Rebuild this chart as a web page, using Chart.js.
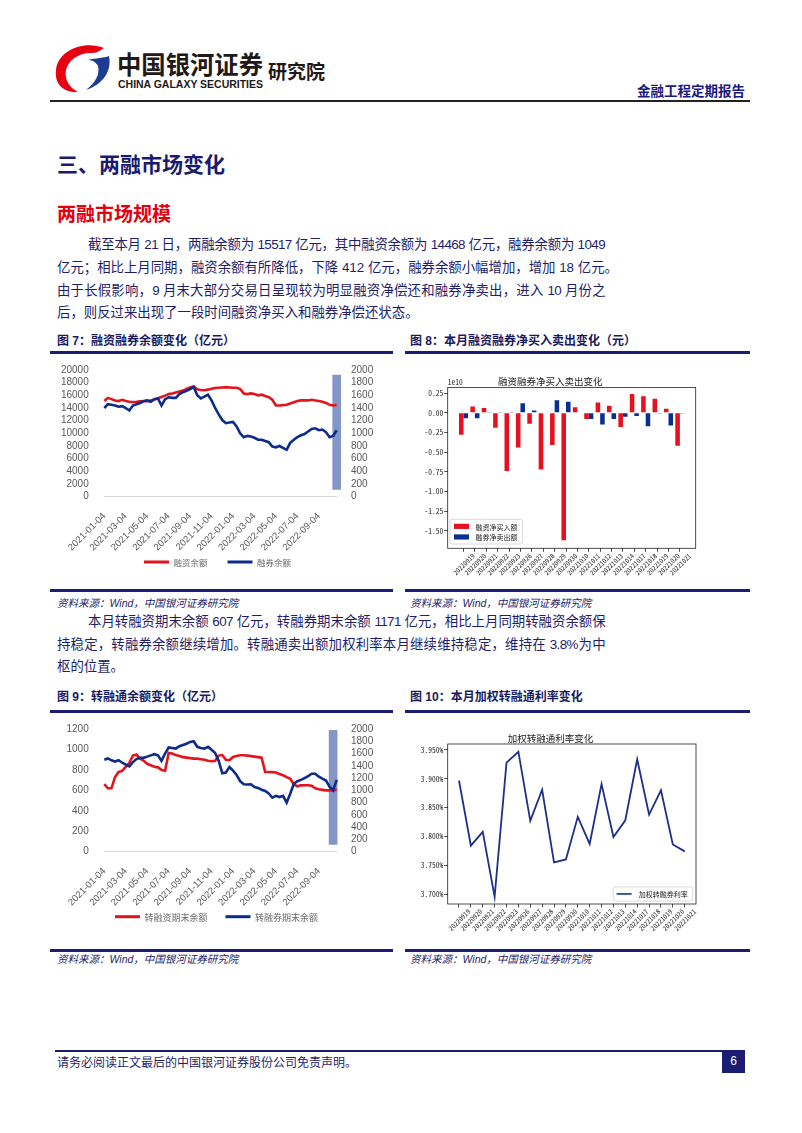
<!DOCTYPE html>
<html>
<head>
<meta charset="utf-8">
<script src="https://cdn.jsdelivr.net/npm/chart.js@4.4.1/dist/chart.umd.min.js"></script>
<style>
  body { margin: 0; background: #fff; }
  #page { position: relative; width: 802px; height: 1133px; overflow: hidden;
          font-family: "Liberation Sans", "Noto Sans CJK SC", sans-serif; color: #1e1e6a; }
  .row { position: absolute; left: 57px; width: 548px; height: 20px; font-size: 13.4px; line-height: 20px; white-space: nowrap; }
  .just { text-align: justify; text-align-last: justify; white-space: normal; letter-spacing: -0.6px; }
  .cap { position: absolute; font-size: 12px; font-weight: bold; line-height: 14px; white-space: nowrap; color: #1a1a5e; }
  .rule { position: absolute; height: 2.5px; background: #1c1c72; }
  .src { position: absolute; font-size: 10.5px; font-style: italic; line-height: 12px; white-space: nowrap; }
  canvas { position: absolute; }
</style>
</head>
<body>
<div id="page">
  <svg width="802" height="110" style="position:absolute;left:0;top:0">
    <path d="M104 48 C84 40 58 50 56 70 C54 86 66 93 78 92 C70 88 64 80 66 70 C68 60 80 52 92 53 C96 53 100 51 104 48 Z" fill="#e60012"/>
    <path d="M109 56 C112 70 104 84 86 90 C96 82 100 74 98 66 C96 62 92 60 88 60 C96 58 104 58 109 56 Z" fill="#1d3d92"/>
    <text x="117" y="74" font-family="Noto Sans CJK SC" font-size="25" font-weight="bold" fill="#231815" textLength="146" lengthAdjust="spacingAndGlyphs">中国银河证券</text>
    <text x="118" y="88" font-family="Liberation Sans" font-size="11" font-weight="bold" fill="#231815" textLength="145" lengthAdjust="spacingAndGlyphs">CHINA GALAXY SECURITIES</text>
    <text x="268" y="79" font-family="Noto Sans CJK SC" font-size="19" font-weight="bold" fill="#231815">研究院</text>
    <text x="745" y="96" text-anchor="end" font-family="Noto Sans CJK SC" font-size="13.5" font-weight="bold" fill="#1a1a80">金融工程定期报告</text>
    <line x1="50" y1="101" x2="750" y2="101" stroke="#222" stroke-width="2"/>
  </svg>

  <div class="row" style="top:152px;width:300px;font-size:21px;line-height:26px;height:26px;font-weight:bold;color:#1a1a6e">三、两融市场变化</div>
  <div class="row" style="top:203px;width:300px;font-size:19px;line-height:24px;height:24px;font-weight:bold;color:#e3000f">两融市场规模</div>

  <div class="row just" style="top:235px;padding-left:31px;width:517px">截至本月 21 日，两融余额为 15517 亿元，其中融资余额为 14468 亿元，融券余额为 1049</div>
  <div class="row" style="top:258px">亿元；相比上月同期，融资余额有所降低，下降 412 亿元，融券余额小幅增加，增加 18 亿元。</div>
  <div class="row just" style="top:281px">由于长假影响，9 月末大部分交易日呈现较为明显融资净偿还和融券净卖出，进入 10 月份之</div>
  <div class="row" style="top:303px">后，则反过来出现了一段时间融资净买入和融券净偿还状态。</div>

  <div class="cap" style="left:57px;top:334px">图 7：融资融券余额变化（亿元）</div>
  <div class="cap" style="left:410px;top:334px">图 8：本月融资融券净买入卖出变化（元）</div>
  <div class="rule" style="left:50px;top:351px;width:343px"></div>
  <div class="rule" style="left:405px;top:351px;width:345px"></div>

  <canvas id="c7" width="343" height="233" style="left:50px;top:355px"></canvas>
  <canvas id="c8" width="345" height="233" style="left:405px;top:355px"></canvas>

  <div class="rule" style="left:50px;top:589px;width:343px"></div>
  <div class="rule" style="left:405px;top:589px;width:345px"></div>
  <div class="src" style="left:57px;top:597px">资料来源：Wind，中国银河证券研究院</div>
  <div class="src" style="left:410px;top:597px">资料来源：Wind，中国银河证券研究院</div>

  <div class="row just" style="top:612px;padding-left:31px;width:517px">本月转融资期末余额 607 亿元，转融券期末余额 1171 亿元，相比上月同期转融资余额保</div>
  <div class="row just" style="top:635px">持稳定，转融券余额继续增加。转融通卖出额加权利率本月继续维持稳定，维持在 3.8%为中</div>
  <div class="row" style="top:657px">枢的位置。</div>

  <div class="cap" style="left:57px;top:690px">图 9：转融通余额变化（亿元）</div>
  <div class="cap" style="left:410px;top:690px">图 10：本月加权转融通利率变化</div>
  <div class="rule" style="left:50px;top:710px;width:343px"></div>
  <div class="rule" style="left:405px;top:710px;width:345px"></div>

  <canvas id="c9" width="343" height="234" style="left:50px;top:714px"></canvas>
  <canvas id="c10" width="345" height="234" style="left:405px;top:714px"></canvas>

  <div class="rule" style="left:50px;top:949px;width:343px"></div>
  <div class="rule" style="left:405px;top:949px;width:345px"></div>
  <div class="src" style="left:57px;top:953px">资料来源：Wind，中国银河证券研究院</div>
  <div class="src" style="left:410px;top:953px">资料来源：Wind，中国银河证券研究院</div>

  <div style="position:absolute;left:55px;top:1050px;width:690px;height:1.5px;background:#1c1c72"></div>
  <div class="row" style="top:1053px;font-size:12px;">请务必阅读正文最后的中国银河证券股份公司免责声明。</div>
  <div style="position:absolute;left:722px;top:1050px;width:23px;height:23px;background:#1c1c72;color:#fff;font-size:12px;line-height:23px;text-align:center">6</div>
</div>

<script>
// ---- data ----
const dates = [
  '2021-01-04','2021-01-14','2021-01-24','2021-02-04','2021-02-14','2021-02-24',
  '2021-03-04','2021-03-14','2021-03-24','2021-04-04','2021-04-14','2021-04-24',
  '2021-05-04','2021-05-14','2021-05-24','2021-06-04','2021-06-14','2021-06-24',
  '2021-07-04','2021-07-14','2021-07-24','2021-08-04','2021-08-14','2021-08-24',
  '2021-09-04','2021-09-14','2021-09-24','2021-10-04','2021-10-14','2021-10-24',
  '2021-11-04','2021-11-14','2021-11-24','2021-12-04','2021-12-14','2021-12-24',
  '2022-01-04','2022-01-14','2022-01-24','2022-02-04','2022-02-14','2022-02-24',
  '2022-03-04','2022-03-14','2022-03-24','2022-04-04','2022-04-14','2022-04-24',
  '2022-05-04','2022-05-14','2022-05-24','2022-06-04','2022-06-14','2022-06-24',
  '2022-07-04','2022-07-14','2022-07-24','2022-08-04','2022-08-14','2022-08-24',
  '2022-09-04','2022-09-14','2022-09-24','2022-10-04','2022-10-14','2022-10-21'
]
const dateTicks = ['2021-01-04','2021-03-04','2021-05-04','2021-07-04','2021-09-04','2021-11-04',
  '2022-01-04','2022-03-04','2022-05-04','2022-07-04','2022-09-04']

// fig 7 (亿元)
const finBal = [15100,15600,15400, 15200,15100,15300, 15100,15000,14950, 14980,15050,15070,
  15070,15200,15340, 15550,15750,15950, 16200,16300,16450, 16600,16750,17000,
  17250,17400,16950, 16850,16800,16900, 17050,17150,17200, 17250,17300,17250,
  17200,17200,17000, 16300,16200,16300, 16200,16000,16100, 15900,15700,15300,
  14400,14400,14450, 14500,14700,14900, 15100,15200,15200, 15200,15300,15200,
  15100,15000,14800, 14500,14400,14468]
const secBal = [1400,1460,1450, 1440,1420,1430, 1400,1360,1440, 1460,1480,1510,
  1520,1500,1540, 1550,1440,1540, 1570,1560,1560, 1620,1650,1670,
  1700,1730,1600, 1550,1580,1610, 1520,1400,1300, 1210,1160,1170,
  1180,1110,1000, 940,960,950, 930,900,900, 880,860,790,
  780,800,770, 740,850,900, 940,970,990, 1030,1070,1080,
  1050,1060,1020, 940,960,1049]
const band7 = [115, 1920]

// fig 9 (亿元)
const refiBal = [660,620,620, 730,780,790, 830,870,940, 950,910,890,
  860,845,830, 825,800,790, 965,960,945, 935,925,920,
  915,910,910, 905,900,890, 885,890,940, 945,900,895,
  926,935,943, 943,940,935, 930,925,920, 780,780,778,
  775,760,747, 730,714,660, 640,649,650, 650,645,620,
  610,605,600, 600,600,607]
const lendBal = [1500,1520,1490, 1470,1490,1450, 1420,1390,1460, 1510,1530,1530,
  1550,1570,1590, 1570,1480,1600, 1700,1690,1680, 1720,1740,1760,
  1790,1800,1710, 1690,1680,1710, 1660,1610,1480, 1280,1290,1380,
  1320,1250,1150, 1100,1095,1100, 1055,1040,1010, 990,950,880,
  910,890,910, 800,945,1108, 1150,1170,1200, 1230,1270,1270,
  1223,1190,1160, 1060,1000,1171]
const band9 = [120, 1980]

// fig 8 / fig 10
const tradeDays = ['20220919','20220920','20220921','20220922','20220923','20220926','20220927',
  '20220928','20220929','20220930','20221010','20221011','20221012','20221013','20221014',
  '20221017','20221018','20221019','20221020','20221021']
const netBuy = [-0.28,0.08,0.06,-0.19,-0.74,-0.44,-0.14,-0.72,-0.41,-1.62,
  0.07,-0.08,0.13,0.09,-0.18,0.24,0.21,0.18,0.05,-0.42]   // 1e10 元
const netSell = [-0.07,-0.07,0.01,0.005,0.005,0.12,0.03,-0.005,0.16,0.14,
  -0.005,-0.08,-0.15,-0.08,-0.05,-0.04,-0.17,-0.01,-0.16,-0.01]
const yTicks8 = [-1.5,-1.25,-1,-0.75,-0.5,-0.25,0,0.25]
const lendRate = [3.897,3.784,3.808,3.695,3.928,3.947,3.827,3.881,3.755,3.760,
  3.834,3.787,3.891,3.799,3.828,3.934,3.838,3.880,3.786,3.774]
const yTicks10 = [3.70,3.75,3.80,3.85,3.90,3.95]

const RED = '#e3141c'
const BLUE = '#0c2b8c'
const BAND = '#8496c8'
const GREY = '#595959'
const MONO = '"Noto Sans Mono CJK SC", "DejaVu Sans Mono", monospace'
Chart.defaults.font.family = '"Liberation Sans", "Noto Sans CJK SC", sans-serif'
Chart.defaults.animation = false

// legend under the excel-like charts, centred on a given point
const excelLegend = {
  id: 'excelLegend',
  afterDraw(chart, args, opts) {
    if (!opts.cy) return
    const { ctx } = chart
    const items = chart.data.datasets.filter(d => d.label)
    ctx.save()
    ctx.font = opts.size + 'px "Noto Sans CJK SC"'
    const widths = items.map(d => 25 + 4.5 + ctx.measureText(d.label).width)
    const total = widths.reduce((a, b) => a + b, 0) + opts.gap * (items.length - 1)
    let x = opts.cx - total / 2
    items.forEach((d, i) => {
      ctx.fillStyle = d.borderColor
      ctx.fillRect(x, opts.cy - 1.5, 25, 3)
      ctx.fillStyle = '#6b6b6b'
      ctx.textBaseline = 'middle'
      ctx.fillText(d.label, x + 29.5, opts.cy + 0.5)
      x += widths[i] + opts.gap
    })
    ctx.restore()
  }
}

// ---- excel style dual axis charts ----
function excelChart(id, names, s1, s2, band, bandIdx, o) {
  const bandData = dates.map((d, i) => i === bandIdx ? band : null)
  return new Chart(document.getElementById(id), {
    type: 'line',
    data: {
      labels: dates,
      datasets: [
        { label: names[0], data: s1, borderColor: RED, borderWidth: 2.6, pointRadius: 0, yAxisID: 'y', order: 2 },
        { label: names[1], data: s2, borderColor: BLUE, borderWidth: 2.6, pointRadius: 0, yAxisID: 'y2', order: 1 },
        { type: 'bar', label: '', data: bandData, backgroundColor: BAND, yAxisID: 'y2', barThickness: 8, clip: false, order: 3 }
      ]
    },
    plugins: [excelLegend],
    options: {
      responsive: false,
      layout: { padding: { left: 0, right: 0, top: 15, bottom: 0 } },
      plugins: {
        tooltip: { enabled: false },
        legend: { display: false },
        excelLegend: { cx: o.legendX, cy: o.legendY, gap: o.legendGap, size: o.legendFont }
      },
      scales: {
        x: {
          offset: false,
          grid: { display: false, offset: false },
          border: { display: true, color: '#d9d9d9', width: 1 },
          afterFit: s => { s.height = o.xHeight },
          ticks: {
            autoSkip: false, minRotation: 45, maxRotation: 45, padding: 6, color: GREY,
            font: { size: 9.5 },
            callback: function (v) { const l = this.getLabelForValue(v); return dateTicks.includes(l) ? l : '' }
          }
        },
        y: {
          position: 'left', min: 0, max: o.leftMax,
          grid: { display: false }, border: { display: false },
          afterFit: s => { s.width = 54.3 },
          ticks: { stepSize: o.leftStep, autoSkip: false, padding: 7.6, color: GREY, font: { size: 10 }, callback: v => String(v) }
        },
        y2: {
          position: 'right', min: 0, max: 2000,
          grid: { display: false }, border: { display: false },
          afterFit: s => { s.width = 56.3 },
          ticks: { stepSize: 200, autoSkip: false, padding: 6.3, color: GREY, font: { size: 10 }, callback: v => String(v) }
        }
      }
    }
  })
}

excelChart('c7', ['融资余额', '融券余额'], finBal, secBal, band7, dates.length - 1,
  { leftMax: 20000, leftStep: 2000, xHeight: 91.3, legendX: 167.5, legendY: 207, legendGap: 20, legendFont: 8.5 })
excelChart('c9', ['转融资期末余额', '转融券期末余额'], refiBal, lendBal, band9, dates.length - 2,
  { leftMax: 1200, leftStep: 200, xHeight: 96.3, legendX: 166.5, legendY: 202.7, legendGap: 18, legendFont: 9 })

// ---- matplotlib style charts ----
const framePlugin = {
  id: 'frame',
  afterDatasetsDraw(chart) {
    const { ctx, chartArea: a } = chart
    ctx.save()
    ctx.strokeStyle = '#222'
    ctx.lineWidth = 0.8
    ctx.strokeRect(a.left, a.top, a.width, a.height)
    ctx.restore()
  }
}
const mplLegend = {
  id: 'mplLegend',
  afterDraw(chart, args, opts) {
    if (!opts.loc) return
    const { ctx, chartArea: a } = chart
    const ds = chart.data.datasets
    ctx.save()
    ctx.font = opts.size + 'px "Noto Sans CJK SC"'
    const tw = Math.max(...ds.map(d => ctx.measureText(d.label).width))
    const rowH = 10.6
    const w = 4 + 15 + 6.5 + tw + 5
    const h = ds.length * rowH + 3.5
    const x0 = opts.loc === 'll' ? a.left + 2.3 : a.right - 3.3 - w
    const y0 = a.bottom - opts.gap - h
    ctx.beginPath()
    ctx.roundRect(x0, y0, w, h, 2)
    ctx.fillStyle = 'rgba(255,255,255,0.8)'
    ctx.fill()
    ctx.strokeStyle = '#d0d0d0'
    ctx.lineWidth = 0.8
    ctx.stroke()
    ds.forEach((d, i) => {
      const cy = y0 + 1.75 + rowH * (i + 0.5)
      if (opts.kind === 'line') {
        ctx.strokeStyle = d.borderColor
        ctx.lineWidth = 1.6
        ctx.beginPath(); ctx.moveTo(x0 + 3.4, cy); ctx.lineTo(x0 + 18.4, cy); ctx.stroke()
      } else {
        ctx.fillStyle = d.backgroundColor
        ctx.fillRect(x0 + 4, cy - 2.6, 15, 5.2)
      }
      ctx.fillStyle = '#222'
      ctx.textBaseline = 'middle'
      ctx.fillText(d.label, x0 + 25.5, cy + 0.5)
    })
    ctx.restore()
  }
}
const offsetText = {
  id: 'offsetText',
  afterDraw(chart, args, opts) {
    if (!opts.text) return
    const { ctx, chartArea: a } = chart
    ctx.save()
    ctx.font = '7.5px ' + MONO
    ctx.fillStyle = '#222'
    ctx.textBaseline = 'bottom'
    ctx.fillText(opts.text, a.left, a.top - 1)
    ctx.restore()
  }
}

function mplScales(xMin, xMax, yMin, yMax, yTicks, fmt, xH) {
  const tickGrid = { display: true, drawOnChartArea: false, drawTicks: true, tickLength: 3.5, tickWidth: 0.8, tickColor: '#222', offset: false }
  return {
    x: {
      type: 'linear', min: xMin, max: xMax, offset: false,
      grid: tickGrid, border: { display: false },
      afterBuildTicks: s => { s.ticks = tradeDays.map((d, i) => ({ value: i })) },
      afterFit: s => { s.height = xH },
      ticks: {
        autoSkip: false, minRotation: 45, maxRotation: 45, padding: 0, labelOffset: 10, color: '#222',
        font: { family: MONO, size: 6.8 },
        callback: v => tradeDays[v]
      }
    },
    y: {
      min: yMin, max: yMax,
      grid: tickGrid, border: { display: false },
      afterBuildTicks: s => { s.ticks = yTicks.map(v => ({ value: v })) },
      afterFit: s => { s.width = 42.7 },
      ticks: { padding: 1, color: '#222', font: { family: MONO, size: 7.5 }, callback: fmt }
    }
  }
}

new Chart(document.getElementById('c8'), {
  type: 'bar',
  data: {
    datasets: [
      { label: '融资净买入额', data: netBuy.map((v, i) => ({ x: i, y: v })), backgroundColor: '#e8101e' },
      { label: '融券净卖出额', data: netSell.map((v, i) => ({ x: i, y: v })), backgroundColor: '#0b2f8f' }
    ]
  },
  plugins: [framePlugin, mplLegend, offsetText],
  options: {
    responsive: false,
    layout: { padding: { left: 0, right: 54.3, top: 0, bottom: 0 } },
    datasets: { bar: { categoryPercentage: 0.8, barPercentage: 1 } },
    plugins: {
      tooltip: { enabled: false },
      legend: { display: false },
      title: { display: true, text: '融资融券净买入卖出变化', color: '#222', padding: { top: 21, bottom: 0 },
        font: { size: 9.5, weight: 'normal', family: '"Noto Sans CJK SC"' } },
      mplLegend: { loc: 'll', kind: 'bar', size: 7, gap: 4.3 },
      offsetText: { text: '1e10' }
    },
    scales: mplScales(-1.39, 20.39, -1.723, 0.323, yTicks8, v => v.toFixed(2), 39.7)
  }
})

new Chart(document.getElementById('c10'), {
  type: 'line',
  data: {
    datasets: [
      { label: '加权转融券利率', data: lendRate.map((v, i) => ({ x: i, y: v })), borderColor: '#1f2f8a', borderWidth: 1.8, pointRadius: 0, tension: 0 }
    ]
  },
  plugins: [framePlugin, mplLegend],
  options: {
    responsive: false,
    layout: { padding: { left: 0, right: 54, top: 0, bottom: 0 } },
    plugins: {
      tooltip: { enabled: false },
      legend: { display: false },
      title: { display: true, text: '加权转融通利率变化', color: '#222', padding: { top: 18.6, bottom: 0 },
        font: { size: 9.5, weight: 'normal', family: '"Noto Sans CJK SC"' } },
      mplLegend: { loc: 'lr', kind: 'line', size: 7, gap: 3 }
    },
    scales: mplScales(-0.95, 19.95, 3.6827, 3.9604, yTicks10, v => v.toFixed(3) + '%', 44)
  }
})
</script>
</body>
</html>
